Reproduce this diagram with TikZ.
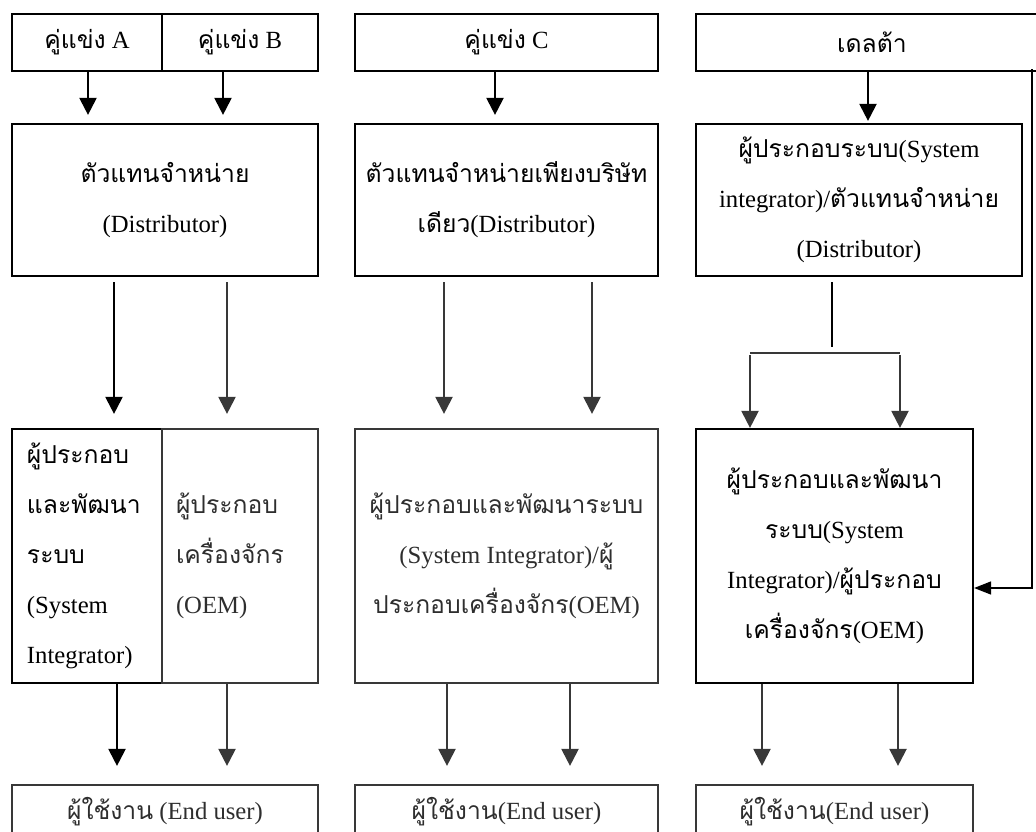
\documentclass[tikz,border=0pt]{standalone}
\usepackage{fontspec}
\setmainfont{Liberation Serif}
\newfontfamily\thaifnt[Script=Thai,Scale=1.0]{Loma}
\newcommand{\thai}[1]{{\thaifnt #1}}
\usetikzlibrary{arrows.meta}
\tikzset{
  box/.style={draw=black, line width=2.2pt, inner sep=0pt, align=center,
    font=\fontsize{24.7}{50}\selectfont},
  wm/.style={draw=black!78, text=black!82},
  ln/.style={line width=2.2pt},
  arr/.style={line width=2.2pt, -{Triangle[width=17pt,length=17pt]}},
  fbarr/.style={line width=1.6pt, -{Triangle[width=13pt,length=17pt]}},
}
\begin{document}
\begin{tikzpicture}[x=1pt,y=-1pt]
\useasboundingbox (0,0) rectangle (1036,832);
% row 1
\node[box, minimum width=150pt, minimum height=57pt] (cA) at (87,42.5) {\thai{คู่แข่ง} A};
\node[box, minimum width=156pt, minimum height=57pt] (cB) at (240,42.5) {\thai{คู่แข่ง} B};
\node[box, minimum width=303pt, minimum height=57pt] (cC) at (506.5,42.5) {\thai{คู่แข่ง} C};
\node[box, minimum width=352pt, minimum height=57pt] (dl) at (872,42.5) {\thai{เดลต้า}};
% row 2
\node[box, minimum width=306pt, minimum height=152pt] (dist) at (165,200) {\thai{ตัวแทนจำหน่าย}\\(Distributor)};
\node[box, minimum width=303pt, minimum height=152pt] (cdist) at (506.5,200) {\thai{ตัวแทนจำหน่ายเพียงบริษัท}\\\thai{เดียว}(Distributor)};
\node[box, minimum width=326pt, minimum height=152pt] (ddist) at (859,200) {\thai{ผู้ประกอบระบบ}(System\\integrator)/\thai{ตัวแทนจำหน่าย}\\(Distributor)};
% row 3
\node[box, minimum width=150pt, minimum height=254pt, text width=120pt, align=left] (si) at (87,556) {\thai{ผู้ประกอบ}\\\thai{และพัฒนา}\\\thai{ระบบ}\\(System\\Integrator)};
\node[box, wm, minimum width=156pt, minimum height=254pt, text width=128pt, align=left] (oem) at (240,556) {\thai{ผู้ประกอบ}\\\thai{เครื่องจักร}\\(OEM)};
\node[box, wm, minimum width=303pt, minimum height=254pt] (csi) at (506.5,556) {\thai{ผู้ประกอบและพัฒนาระบบ}\\(System Integrator)/\thai{ผู้}\\\thai{ประกอบเครื่องจักร}(OEM)};
\node[box, minimum width=277pt, minimum height=254pt] (dsi) at (834.5,556) {\thai{ผู้ประกอบและพัฒนา}\\\thai{ระบบ}(System\\Integrator)/\thai{ผู้ประกอบ}\\\thai{เครื่องจักร}(OEM)};
% row 4
\node[box, wm, minimum width=306pt, minimum height=54pt] (euA) at (165,812) {\thai{ผู้ใช้งาน} (End user)};
\node[box, wm, minimum width=303pt, minimum height=54pt] (euC) at (506.5,812) {\thai{ผู้ใช้งาน}(End user)};
\node[box, wm, minimum width=277pt, minimum height=54pt] (euD) at (834.5,812) {\thai{ผู้ใช้งาน}(End user)};
% column positions
\coordinate (xA) at (88,0);
\coordinate (xB) at (223,0);
\coordinate (xC) at (495,0);
\coordinate (xD) at (868,0);
\coordinate (x2a) at (114,0);
\coordinate (x2b) at (227,0);
\coordinate (x2c) at (444,0);
\coordinate (x2d) at (592,0);
\coordinate (x2e) at (832,0);
\coordinate (x3a) at (117,0);
\coordinate (x3b) at (227,0);
\coordinate (x3c) at (447,0);
\coordinate (x3d) at (570,0);
\coordinate (x3e) at (762,0);
\coordinate (x3f) at (898,0);
\coordinate (brM) at (832,347);
\coordinate (brL) at (750,353);
\coordinate (brR) at (900,353);
\coordinate (fb) at (1032,588);
% row 1 -> row 2
\draw[arr, shorten >=8pt] (cA.south -| xA) -- (dist.north -| xA);
\draw[arr, shorten >=8pt] (cB.south -| xB) -- (dist.north -| xB);
\draw[arr, shorten >=8pt] (cC.south -| xC) -- (cdist.north -| xC);
\draw[arr, shorten >=2pt] (dl.south -| xD) -- (ddist.north -| xD);
% row 2 -> row 3
\draw[arr, shorten <=5pt, shorten >=14pt] (dist.south -| x2a) -- (si.north -| x2a);
\draw[arr, black!78, shorten <=5pt, shorten >=14pt] (dist.south -| x2b) -- (oem.north -| x2b);
\draw[arr, black!78, shorten <=5pt, shorten >=14pt] (cdist.south -| x2c) -- (csi.north -| x2c);
\draw[arr, black!78, shorten <=5pt, shorten >=14pt] (cdist.south -| x2d) -- (csi.north -| x2d);
\draw[ln, shorten <=5pt] (ddist.south -| x2e) -- (brM);
\draw[ln, black!78] (brL) -- (brR);
\draw[arr, black!78] ([yshift=-2pt]brL) -- (dsi.north -| brL);
\draw[arr, black!78] ([yshift=-2pt]brR) -- (dsi.north -| brR);
% row 3 -> row 4
\draw[arr, shorten >=18pt] (si.south -| x3a) -- (euA.north -| x3a);
\draw[arr, black!78, shorten >=18pt] (oem.south -| x3b) -- (euA.north -| x3b);
\draw[arr, black!78, shorten >=18pt] (csi.south -| x3c) -- (euC.north -| x3c);
\draw[arr, black!78, shorten >=18pt] (csi.south -| x3d) -- (euC.north -| x3d);
\draw[arr, black!78, shorten >=18pt] (dsi.south -| x3e) -- (euD.north -| x3e);
\draw[arr, black!78, shorten >=18pt] (dsi.south -| x3f) -- (euD.north -| x3f);
% feedback
\draw[fbarr] ([yshift=3pt]dl.south -| fb) -- (fb) -- (dsi.east |- fb);
\end{tikzpicture}
\end{document}
